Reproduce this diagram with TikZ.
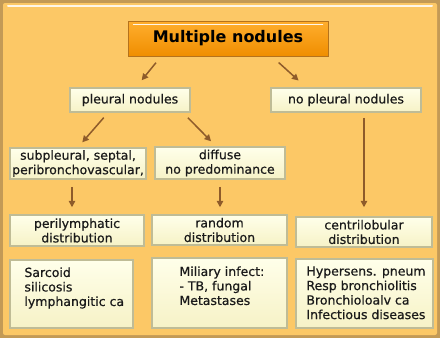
\documentclass[tikz,border=0pt]{standalone}
\usepackage{fontspec}
\setmainfont{DejaVu Sans}
\newfontfamily\boxfont{DejaVu Sans}[FakeBold=0.6]
\usetikzlibrary{arrows.meta}
\usetikzlibrary{positioning}

\definecolor{frame}{HTML}{C39A56}
\definecolor{panel}{HTML}{FCC866}
\definecolor{boxedge}{HTML}{BFBC96}
\definecolor{creamtop}{HTML}{FFFFEA}
\definecolor{creambot}{HTML}{F6F2C6}
\definecolor{titletop}{HTML}{FFAE2E}
\definecolor{titlebot}{HTML}{F08E00}
\definecolor{titleedge}{HTML}{B5721C}
\definecolor{arrowbrown}{HTML}{8E5B2A}
\definecolor{ink}{HTML}{1A1A1A}

\tikzset{
  cbox/.style={draw=boxedge, line width=1.5pt, top color=creamtop, bottom color=creambot,
    inner sep=0pt, align=center, text=ink, font=\boxfont\fontsize{12.5}{14.5}\selectfont},
  listtxt/.style={anchor=north west, align=left, inner sep=0pt, text=ink,
    font=\boxfont\fontsize{12.5}{14.5}\selectfont},
  arr/.style={-{Triangle[length=6.5pt,width=6.5pt]}, draw=arrowbrown, line width=1.5pt}
}

\begin{document}
\begin{tikzpicture}[x=1pt,y=-1pt]
            \useasboundingbox (0,0) rectangle (440,338);
            % panel
            \fill[frame] (0,0) rectangle (440,338);
            \fill[panel, rounded corners=2pt] (3,3) rectangle (437,335);
            \draw[white, line width=2pt, opacity=.85, line cap=round] (8,6) -- (432,6);

            % title
            \node[draw=titleedge, line width=1pt, top color=titletop, bottom color=titlebot,
                minimum width=200pt, minimum height=35pt, inner sep=0pt,
                font=\bfseries\fontsize{16}{18}\selectfont] (title) at (228,38.5) {Multiple nodules};
            \draw[white, line width=1.5pt, line cap=round, opacity=.9]
                ([shift={(6pt,-4pt)}]title.north west) -- ([shift={(-6pt,-4pt)}]title.north east);

            % second level
            \node[cbox, minimum width=120pt, minimum height=24pt] (pleural) at (130,100) {pleural nodules};
            \node[cbox, minimum width=150pt, minimum height=24pt] (nopl) at (346,100) {no pleural nodules};

            % third level
            \node[cbox, minimum width=136pt, minimum height=31pt] (sub) at (78,163.5) {subpleural, septal,\\peribronchovascular,};
            \node[cbox, minimum width=130pt, minimum height=32pt] (diffuse) at (220,163) {diffuse\\no predominance};

            % distributions
            \node[cbox, minimum width=134pt, minimum height=31pt] (peri) at (77,230.5) {perilymphatic\\distribution};
            \node[cbox, minimum width=135pt, minimum height=30pt] (random) at (219.5,230) {random\\distribution};
            \node[cbox, minimum width=136pt, minimum height=30pt] (centri) at (364,232) {centrilobular\\distribution};

            % lists
            \node[cbox, minimum width=123pt, minimum height=68pt] (sarc) at (71.5,294) {};
            \node[listtxt] (sarc-t) at ([shift={(15pt,-8pt)}]sarc.north west) {Sarcoid\\silicosis\\lymphangitic ca};
            \node[cbox, minimum width=135pt, minimum height=70pt] (miliary) at (219.5,293) {};
            \node[listtxt] (miliary-t) at ([shift={(28pt,-9pt)}]miliary.north west) {Miliary infect:\\- TB, fungal\\Metastases};
            \node[cbox, minimum width=137pt, minimum height=69pt] (hyper) at (364.5,293.5) {};
            \node[listtxt] (hyper-t) at ([shift={(11pt,-8pt)}]hyper.north west) {Hypersens. pneum\\Resp bronchiolitis\\Bronchioloalv ca\\Infectious diseases};

            % connectors
            \draw[arr, shorten <=8pt, shorten >=9pt] ([xshift=-67pt]title.south) -- ([xshift=6pt]pleural.north);
            \draw[arr, shorten <=9pt, shorten >=10pt] ([xshift=44pt]title.south) -- ([xshift=-40pt]nopl.north);
            \draw[arr, shorten <=6.5pt, shorten >=6.5pt] ([xshift=-22pt]pleural.south) -- (sub.north);
            \draw[arr, shorten <=7pt, shorten >=7pt] ([xshift=53pt]pleural.south) -- ([xshift=-4pt]diffuse.north);
            \draw[arr, shorten <=7pt, shorten >=7pt] ([xshift=-6pt]sub.south) -- ([xshift=-5pt]peri.north);
            \draw[arr, shorten <=7pt, shorten >=7pt] (diffuse.south) -- (diffuse.south |- random.north);
            \draw[arr, shorten <=5pt, shorten >=9pt] (nopl.south -| centri.north) -- (centri.north);
        \end{tikzpicture}
\end{document}
